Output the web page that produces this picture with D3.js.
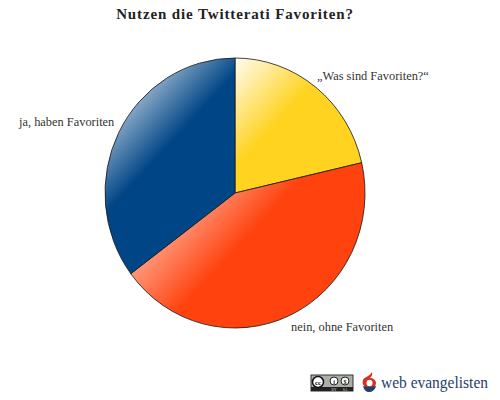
<!DOCTYPE html>
<html>
<head>
<meta charset="utf-8">
<script src="https://d3js.org/d3.v7.min.js"></script>
<style>
  html, body { margin: 0; padding: 0; background: #fff; }
  svg { display: block; }
  text { font-family: "Liberation Serif", serif; fill: #333; }
</style>
</head>
<body>
<svg id="chart"></svg>
<script>
// Data
const categories = ["„Was sind Favoriten?“", "nein, ohne Favoriten", "ja, haben Favoriten"];
const shares = [21.4, 43.4, 35.2];
const colors = ["#ffd320", "#ff420e", "#004586"];
const labelPos = [[317, 80], [291, 331], [19, 126]];
// Where each slice's fade starts and ends, measured as x + y on the page
const fadeStart = [293, 293, 175];
const fadeEnd = [405, 485, 315];

const width = 500;
const height = 400;
const centerX = 235;
const centerY = 193;
const radiusX = 130;
const radiusY = 135;
const squash = radiusY / radiusX;

const svg = d3.select("#chart")
  .attr("width", width)
  .attr("height", height);

const defs = svg.append("defs");

// Each slice fades to white towards its top left
colors.forEach((c, i) => {
  const grad = defs.append("linearGradient")
    .attr("id", "slice" + i)
    .attr("gradientUnits", "userSpaceOnUse")
    .attr("x1", fadeStart[i] / 2 - centerX)
    .attr("y1", (fadeStart[i] / 2 - centerY) / squash)
    .attr("x2", fadeEnd[i] / 2 - centerX)
    .attr("y2", (fadeEnd[i] / 2 - centerY) / squash);
  grad.append("stop").attr("offset", "0%").attr("stop-color", "#fff");
  grad.append("stop").attr("offset", "100%").attr("stop-color", c);
});

// Title
svg.append("text")
  .attr("x", 235)
  .attr("y", 19)
  .attr("text-anchor", "middle")
  .attr("font-size", 15)
  .attr("font-weight", "bold")
  .attr("letter-spacing", 0.87)
  .style("fill", "#222")
  .text("Nutzen die Twitterati Favoriten?");

// Pie, slightly taller than wide like the original
const pie = d3.pie().sort(null).value(d => d);
const arc = d3.arc().innerRadius(0).outerRadius(radiusX);

svg.append("g")
  .attr("transform", `translate(${centerX},${centerY}) scale(1,${squash})`)
  .selectAll("path")
  .data(pie(shares))
  .enter()
  .append("path")
  .attr("d", arc)
  .attr("fill", (d, i) => `url(#slice${i})`)
  .attr("stroke", "#1a1a1a")
  .attr("stroke-width", 0.8);

// Slice labels
svg.selectAll(".label")
  .data(categories)
  .enter()
  .append("text")
  .attr("class", "label")
  .attr("x", (d, i) => labelPos[i][0])
  .attr("y", (d, i) => labelPos[i][1])
  .attr("font-size", 12.4)
  .text(d => d);

// Creative Commons badge
const badge = svg.append("g").attr("transform", "translate(311,375)");
badge.append("rect").attr("width", 42).attr("height", 16).attr("fill", "#aab0a8").attr("stroke", "#333");
badge.append("rect").attr("y", 12).attr("width", 42).attr("height", 4).attr("fill", "#222");
badge.append("circle").attr("cx", 7).attr("cy", 7).attr("r", 5.5).attr("fill", "#fff").attr("stroke", "#111").attr("stroke-width", 1.5);
badge.append("text").attr("x", 7).attr("y", 9.5).attr("text-anchor", "middle")
  .attr("font-size", 7).attr("font-weight", "bold").style("fill", "#111").text("cc");
[23, 34].forEach((cx, i) => {
  badge.append("circle").attr("cx", cx).attr("cy", 6).attr("r", 4).attr("fill", "#fff").attr("stroke", "#222");
  badge.append("text").attr("x", cx).attr("y", 8.5).attr("text-anchor", "middle")
    .attr("font-size", 6).attr("font-weight", "bold").style("fill", "#222").text(i ? "$" : "i");
  badge.append("text").attr("x", cx).attr("y", 15.5).attr("text-anchor", "middle")
    .attr("font-size", 3.5).style("fill", "#ddd").text(i ? "SA" : "BY");
});

// Web Evangelisten logo
const logo = svg.append("g").attr("transform", "translate(362,372)");
logo.append("path")
  .attr("d", "M10 0 C11 3 9 5 8 6 C11 6 14 8 14 11 C14 13 13 14 12 15 L3 15 C1 13 0 11 1 8 C2 5 7 5 10 0 Z")
  .attr("fill", "#d8301c");
logo.append("ellipse")
  .attr("cx", 7.5).attr("cy", 11).attr("rx", 3).attr("ry", 3.2)
  .attr("fill", "#fff");
logo.append("path")
  .attr("d", "M1 14 C3 15 11 15 14 14 C13 18 10 20 7 20 C4 20 2 18 1 14 Z")
  .attr("fill", "#1f3f6e");
svg.append("text")
  .attr("x", 381)
  .attr("y", 388)
  .attr("font-size", 17)
  .attr("textLength", 107)
  .attr("lengthAdjust", "spacingAndGlyphs")
  .style("fill", "#27406b")
  .text("web evangelisten");
</script>
</body>
</html>
